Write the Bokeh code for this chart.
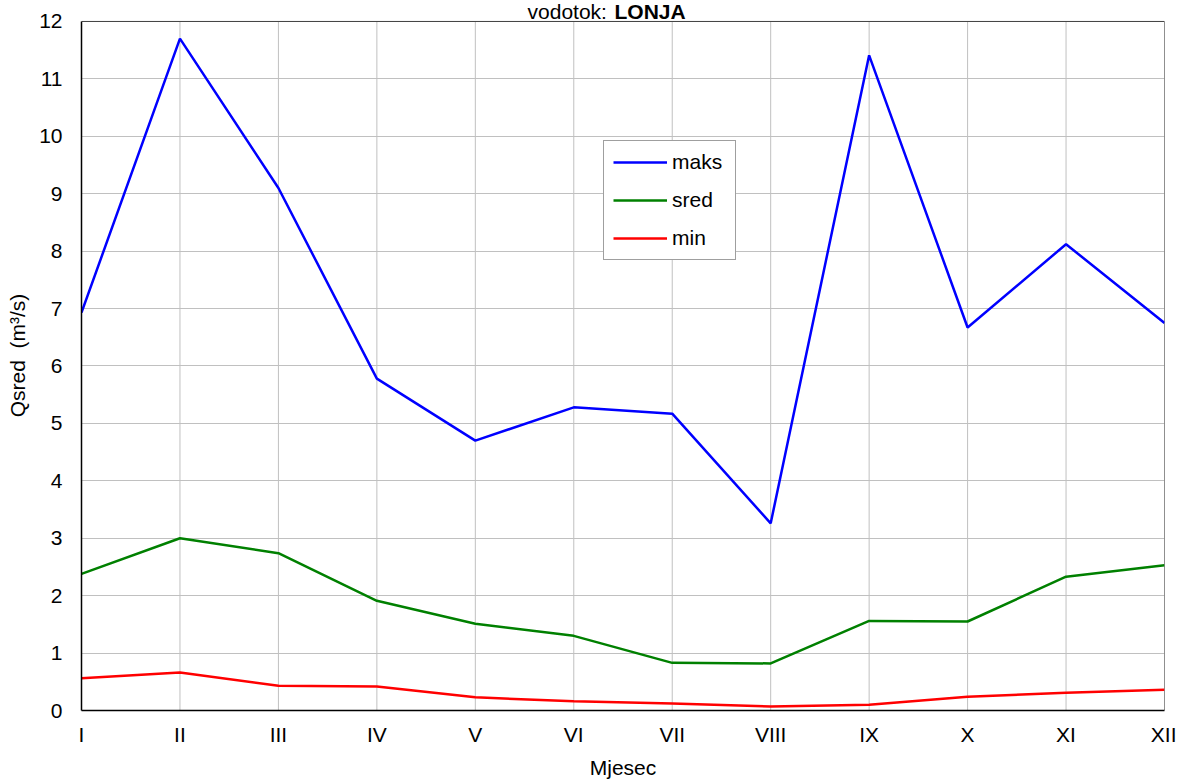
from bokeh.plotting import figure
from bokeh.models import Range1d, FixedTicker, Legend, LegendItem, Label
from bokeh.embed import file_html
from bokeh.resources import INLINE

months = ["I", "II", "III", "IV", "V", "VI", "VII", "VIII", "IX", "X", "XI", "XII"]
maks = [6.93, 11.70, 9.10, 5.78, 4.70, 5.28, 5.17, 3.26, 11.41, 6.67, 8.12, 6.75]
sred = [2.38, 3.00, 2.74, 1.91, 1.51, 1.30, 0.83, 0.82, 1.56, 1.55, 2.33, 2.53]
minv = [0.56, 0.66, 0.43, 0.42, 0.23, 0.16, 0.12, 0.07, 0.10, 0.24, 0.31, 0.36]
y_ticks = list(range(0, 13))

xs = list(range(1, len(months) + 1))
FONT = "Liberation Sans"
Y0, Y1 = y_ticks[0], y_ticks[-1]
X0, X1 = xs[0], xs[-1]

# extra headroom above the last tick so the title can sit inside the canvas
p = figure(width=1176, height=781, output_backend="svg", toolbar_location=None,
           title=None,
           x_range=Range1d(X0, X1), y_range=Range1d(Y0, 12.365),
           min_border_left=81, min_border_top=0, min_border_right=12, min_border_bottom=69)
p.outline_line_color = None

for ax in (p.xaxis[0], p.yaxis[0]):
    ax.axis_line_color = "black"
    ax.axis_line_width = 1.5
    ax.major_tick_out = 0
    ax.major_tick_in = 0
    ax.minor_tick_out = 0
    ax.minor_tick_in = 0
    ax.major_label_text_font = FONT
    ax.major_label_text_font_size = "21px"
    ax.major_label_text_color = "black"
    ax.axis_label_text_font = FONT
    ax.axis_label_text_font_size = "21px"
    ax.axis_label_text_font_style = "normal"
    ax.axis_label_text_color = "black"

p.xaxis.ticker = FixedTicker(ticks=xs)
p.xaxis.major_label_overrides = {i: m for i, m in zip(xs, months)}
p.xaxis.major_label_standoff = 12
p.xaxis.axis_label = "Mjesec"
p.xaxis.axis_label_standoff = 7

p.yaxis.ticker = FixedTicker(ticks=y_ticks)
p.yaxis.bounds = (Y0, Y1)
p.yaxis.major_label_standoff = 19
p.yaxis.axis_label = "Qsred\u00a0 (m³/s)"
p.yaxis.axis_label_standoff = 7

p.xgrid.visible = False
p.ygrid.grid_line_color = "#c0c0c0"
p.ygrid.grid_line_width = 1

# vertical grid lines limited to the value range
p.segment(x0=xs, y0=[Y0] * len(xs), x1=xs, y1=[Y1] * len(xs),
          line_color="#c0c0c0", line_width=1)
# top and right frame lines
p.segment(x0=[X0, X1], y0=[Y1, Y0], x1=[X1, X1], y1=[Y1, Y1],
          line_color="#404040", line_width=1)

r1 = p.line(xs, maks, line_color="#0000ff", line_width=2.5)
r2 = p.line(xs, sred, line_color="#008000", line_width=2.5)
r3 = p.line(xs, minv, line_color="#ff0000", line_width=2.5)

legend = Legend(items=[LegendItem(label="maks", renderers=[r1]),
                       LegendItem(label="sred", renderers=[r2]),
                       LegendItem(label="min", renderers=[r3])],
                location=(522, 450))
legend.glyph_width = 54
legend.glyph_height = 20
legend.label_height = 20
legend.label_width = 54
legend.spacing = 14
legend.padding = 9
legend.margin = 0
legend.label_standoff = 5
legend.label_text_font = FONT
legend.label_text_font_size = "21px"
legend.label_text_color = "black"
legend.border_line_color = "#404040"
legend.border_line_width = 1
legend.background_fill_color = "white"
legend.background_fill_alpha = 1
p.add_layout(legend)

t1 = Label(x=1 + (528 - 82) / 98.45, y=12.17, text="vodotok:", text_font=FONT,
           text_font_size="21px", text_color="black", text_baseline="alphabetic")
t2 = Label(x=1 + (615 - 82) / 98.45, y=12.17, text="LONJA", text_font=FONT,
           text_font_size="21px", text_font_style="bold", text_color="black",
           text_baseline="alphabetic")
p.add_layout(t1)
p.add_layout(t2)

open("out.html", "w").write(file_html(p, INLINE))
